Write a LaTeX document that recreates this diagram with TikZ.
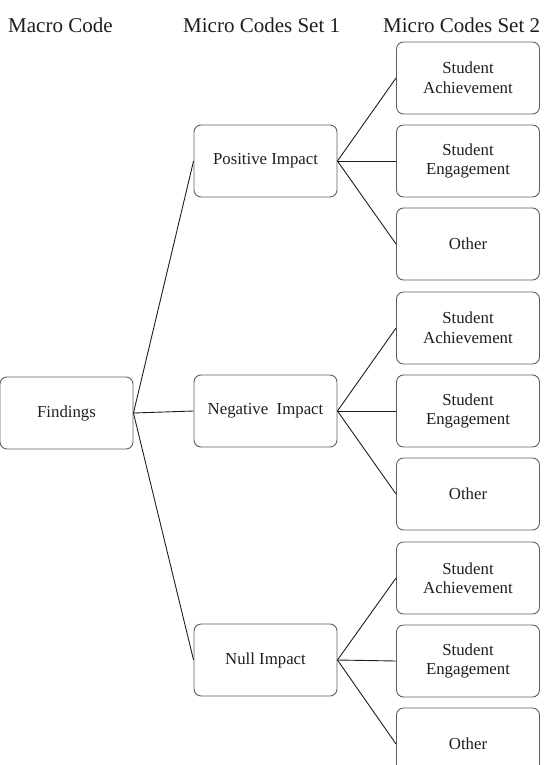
\documentclass[tikz,border=0pt]{standalone}
\usepackage{fontspec}
\setmainfont{Liberation Serif}
\usetikzlibrary{positioning}
\definecolor{frame}{RGB}{95,95,95}
\definecolor{ink}{RGB}{30,30,30}

\begin{document}
\begin{tikzpicture}[x=1pt, y=-1pt,
    codebox/.style={draw=frame, line width=0.9pt, rounded corners=7pt, minimum width=143pt, minimum height=72pt,
      align=center, text=ink, inner sep=2pt, font=\fontsize{16.8}{19.5}\selectfont},
    header/.style={anchor=base west, inner sep=0pt, text=ink, font=\fontsize{21}{24}\selectfont},
    link/.style={draw=ink, line width=0.9pt}]
  \useasboundingbox (0,0) rectangle (547,765);
  \node[header] (macro) at (8,33) {Macro Code};
  \node[header] (set1) at (183,33) {Micro Codes Set 1};
  \node[header] (set2) at (383,33) {Micro Codes Set 2};
  \node[codebox, minimum width=133pt] (find) at (66.5,413) {Findings};
  \node[codebox] (pos) at (265.5,161) {Positive Impact};
  \node[codebox] (neg) at (265.5,411) {Negative\ \ Impact};
  \node[codebox] (null) at (265.5,660) {Null Impact};
  \foreach \grp/\cy in {pos/161, neg/411, null/661} {
    \node[codebox] (\grp-ach) at (468,\cy-83) {Student\\Achievement};
    \node[codebox] (\grp-eng) at (468,\cy) {Student\\Engagement};
    \node[codebox] (\grp-oth) at (468,\cy+83) {Other};
    \draw[link] (\grp.east) -- (\grp-ach.west);
    \draw[link] (\grp.east) -- (\grp-eng.west);
    \draw[link] (\grp.east) -- (\grp-oth.west);
    \draw[link] (find.east) -- (\grp.west);
  }
\end{tikzpicture}
\end{document}
